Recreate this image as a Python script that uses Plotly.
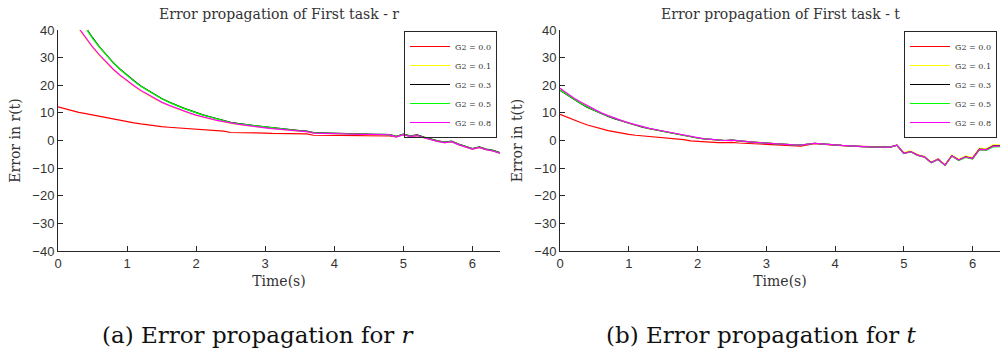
import numpy as np
import plotly.graph_objects as go

# ---------------- data ----------------
time_s = np.round(np.arange(0, 6.45, 0.1), 1)  # 0.0 .. 6.4 s

series_names = ["G2 = 0.0", "G2 = 0.1", "G2 = 0.3", "G2 = 0.5", "G2 = 0.8"]
series_colors = ["#FF0000", "#FFFF00", "#000000", "#00FF00", "#FF00FF"]

# Error in r(t)
r_g00 = [12.2, 11.5, 10.8, 10.2, 9.7, 9.2, 8.7, 8.2, 7.7, 7.2,
         6.8, 6.4, 6.0, 5.6, 5.3, 5.0, 4.8, 4.6, 4.4, 4.2,
         4.0, 3.9, 3.7, 3.6, 3.4, 2.9, 2.9, 2.8, 2.8, 2.7,
         2.7, 2.6, 2.6, 2.6, 2.5, 2.5, 2.4, 1.9, 1.9, 1.9,
         1.8, 1.8, 1.8, 1.8, 1.8, 1.8, 1.8, 1.7, 1.7, 1.3,
         2.1, 1.5, 1.8, 1.0, 0.3, -0.3, -0.8, -0.4, -1.5, -2.2,
         -3.1, -2.5, -3.3, -3.8, -4.6]
r_g01 = [53.5, 48.7, 44.4, 40.4, 36.9, 33.6, 30.7, 28.0, 25.6, 23.4,
         21.4, 19.6, 17.9, 16.4, 15.0, 13.8, 12.7, 11.7, 10.8, 9.9,
         9.1, 8.4, 7.8, 7.2, 6.7, 6.2, 5.8, 5.5, 5.1, 4.8,
         4.5, 4.3, 4.0, 3.8, 3.6, 3.4, 3.2, 2.7, 2.6, 2.5,
         2.4, 2.3, 2.3, 2.2, 2.2, 2.1, 2.1, 2.0, 2.0, 1.4,
         2.2, 1.6, 1.9, 1.1, 0.4, -0.2, -0.7, -0.3, -1.4, -2.1,
         -3.0, -2.4, -3.2, -3.7, -4.5]
r_g03 = [58.7, 53.7, 49.1, 44.8, 40.8, 37.2, 33.9, 30.9, 28.2, 25.8,
         23.6, 21.6, 19.7, 18.1, 16.6, 15.2, 14.0, 12.9, 11.9, 11.0,
         10.1, 9.3, 8.6, 7.9, 7.3, 6.6, 6.2, 5.8, 5.5, 5.2,
         4.9, 4.6, 4.3, 4.0, 3.8, 3.6, 3.4, 2.9, 2.8, 2.7,
         2.6, 2.5, 2.4, 2.4, 2.3, 2.3, 2.2, 2.2, 2.1, 1.5,
         2.3, 1.7, 2.0, 1.2, 0.5, -0.1, -0.6, -0.2, -1.3, -2.0,
         -2.9, -2.3, -3.1, -3.6, -4.4]
r_g05 = [58.5, 53.5, 48.9, 44.6, 40.6, 37.0, 33.8, 30.8, 28.1, 25.7,
         23.5, 21.5, 19.6, 18.0, 16.5, 15.1, 13.9, 12.8, 11.8, 10.9,
         10.0, 9.2, 8.5, 7.8, 7.2, 6.5, 6.1, 5.8, 5.4, 5.1,
         4.8, 4.5, 4.2, 4.0, 3.7, 3.5, 3.3, 2.8, 2.7, 2.6,
         2.5, 2.4, 2.4, 2.3, 2.3, 2.2, 2.2, 2.1, 2.0, 1.4,
         2.2, 1.6, 1.9, 1.1, 0.4, -0.2, -0.7, -0.3, -1.4, -2.1,
         -3.0, -2.4, -3.2, -3.7, -4.5]
r_g08 = [53.8, 49.0, 44.7, 40.7, 37.2, 33.9, 31.0, 28.3, 25.8, 23.6,
         21.6, 19.8, 18.1, 16.6, 15.2, 13.9, 12.8, 11.8, 10.9, 10.0,
         9.2, 8.5, 7.9, 7.3, 6.8, 6.3, 5.9, 5.6, 5.2, 4.9,
         4.6, 4.3, 4.1, 3.8, 3.6, 3.4, 3.2, 2.7, 2.6, 2.5,
         2.4, 2.4, 2.3, 2.3, 2.2, 2.2, 2.1, 2.1, 2.0, 1.3,
         2.1, 1.5, 1.8, 1.0, 0.3, -0.3, -0.8, -0.4, -1.5, -2.2,
         -3.1, -2.5, -3.3, -3.8, -4.6]

# Error in t(t)
t_g00 = [9.5, 8.4, 7.4, 6.5, 5.6, 4.9, 4.2, 3.6, 3.1, 2.6,
         2.2, 1.9, 1.7, 1.4, 1.2, 1.0, 0.8, 0.5, 0.3, -0.1,
         -0.3, -0.5, -0.7, -0.8, -0.8, -0.7, -0.9, -1.0, -1.1, -1.3,
         -1.4, -1.5, -1.7, -1.8, -1.9, -2.0, -1.6, -1.1, -1.3, -1.6,
         -1.7, -1.9, -2.0, -2.1, -2.2, -2.3, -2.4, -2.5, -2.4, -1.7,
         -4.6, -4.0, -5.3, -5.9, -8.0, -6.8, -8.9, -5.5, -7.1, -5.9,
         -6.5, -3.2, -3.4, -2.0, -2.0]
t_g01 = [18.7, 16.9, 15.2, 13.7, 12.3, 11.0, 9.9, 8.9, 7.9, 7.1,
         6.3, 5.6, 4.9, 4.3, 3.8, 3.3, 2.8, 2.3, 1.8, 1.3,
         0.9, 0.6, 0.3, 0.1, 0.0, 0.1, -0.2, -0.4, -0.6, -0.8,
         -1.0, -1.1, -1.3, -1.4, -1.6, -1.7, -1.4, -1.0, -1.2, -1.5,
         -1.6, -1.8, -2.0, -2.1, -2.2, -2.3, -2.4, -2.5, -2.4, -1.6,
         -4.4, -3.8, -5.1, -5.7, -7.8, -6.6, -8.7, -5.3, -6.8, -5.6,
         -6.1, -2.8, -3.0, -1.6, -1.6]
t_g03 = [18.2, 16.5, 14.9, 13.4, 12.0, 10.8, 9.7, 8.7, 7.8, 7.0,
         6.2, 5.5, 4.8, 4.3, 3.8, 3.3, 2.8, 2.3, 1.8, 1.3,
         0.9, 0.6, 0.4, 0.2, 0.0, 0.1, -0.2, -0.4, -0.6, -0.8,
         -1.0, -1.1, -1.3, -1.4, -1.6, -1.7, -1.4, -1.0, -1.2, -1.5,
         -1.6, -1.8, -2.0, -2.1, -2.2, -2.3, -2.4, -2.5, -2.4, -1.7,
         -4.6, -4.0, -5.3, -5.9, -8.0, -6.8, -8.9, -5.5, -7.1, -5.9,
         -6.5, -3.1, -3.3, -1.9, -1.9]
t_g05 = [18.3, 16.6, 15.0, 13.5, 12.1, 10.9, 9.8, 8.8, 7.9, 7.0,
         6.3, 5.6, 4.9, 4.3, 3.8, 3.3, 2.8, 2.3, 1.8, 1.3,
         0.9, 0.6, 0.4, 0.2, 0.0, 0.1, -0.2, -0.4, -0.6, -0.8,
         -1.0, -1.1, -1.3, -1.4, -1.6, -1.7, -1.4, -1.0, -1.2, -1.5,
         -1.6, -1.8, -2.0, -2.1, -2.2, -2.3, -2.4, -2.5, -2.4, -1.8,
         -4.7, -4.1, -5.4, -6.0, -8.1, -6.9, -9.0, -5.7, -7.3, -6.1,
         -6.7, -3.4, -3.6, -2.3, -2.2]
t_g08 = [18.9, 17.1, 15.4, 13.9, 12.5, 11.2, 10.0, 9.0, 8.0, 7.2,
         6.4, 5.7, 5.0, 4.4, 3.9, 3.4, 2.9, 2.4, 1.9, 1.4,
         0.9, 0.6, 0.4, 0.2, 0.0, 0.1, -0.2, -0.4, -0.6, -0.8,
         -1.0, -1.1, -1.3, -1.4, -1.6, -1.7, -1.4, -1.0, -1.2, -1.5,
         -1.6, -1.8, -2.0, -2.1, -2.2, -2.3, -2.4, -2.5, -2.4, -1.7,
         -4.6, -4.0, -5.3, -5.9, -8.0, -6.8, -8.9, -5.5, -7.1, -5.9,
         -6.5, -3.2, -3.4, -2.0, -2.0]

r_series = [r_g00, r_g01, r_g03, r_g05, r_g08]
t_series = [t_g00, t_g01, t_g03, t_g05, t_g08]

y_ticks = [-40, -30, -20, -10, 0, 10, 20, 30, 40]
x_ticks = [0, 1, 2, 3, 4, 5, 6]

# ---------------- figure ----------------
W, H = 1000, 351
SERIF = "DejaVu Serif"
SANS = "Liberation Sans"
AX = "#262626"

fig = go.Figure()
for name, color, ys in zip(series_names, series_colors, r_series):
    fig.add_trace(go.Scatter(x=time_s, y=ys, mode="lines", name=name,
                             line=dict(color=color, width=1.2),
                             xaxis="x", yaxis="y", legend="legend"))
for name, color, ys in zip(series_names, series_colors, t_series):
    fig.add_trace(go.Scatter(x=time_s, y=ys, mode="lines", name=name,
                             line=dict(color=color, width=1.2),
                             xaxis="x2", yaxis="y2", legend="legend2"))


def xaxis(domain, anchor):
    return dict(domain=domain, anchor=anchor, range=[0, 6.4], tickvals=x_ticks,
                showline=True, linecolor=AX, linewidth=1, mirror=False,
                ticks="inside", ticklen=5, tickcolor=AX, showgrid=False, zeroline=False,
                tickfont=dict(family=SANS, size=13, color="#333"),
                title=dict(text="Time(s)", font=dict(family=SERIF, size=14, color="#333"),
                           standoff=6))


def yaxis(domain, anchor, label):
    return dict(domain=domain, anchor=anchor, range=[-40, 40], tickvals=y_ticks,
                showline=True, linecolor=AX, linewidth=1, mirror=False,
                ticks="inside", ticklen=5, tickcolor=AX, showgrid=False, zeroline=False,
                tickfont=dict(family=SANS, size=13, color="#333"),
                title=dict(text=label, font=dict(family=SERIF, size=14, color="#333"),
                           standoff=8))


ydom = [100 / H, (H - 30) / H]
left_dom = [58 / W, 500 / W]
right_dom = [560 / W, 1.0]


def legend_box(xright):
    return dict(x=xright, xanchor="right", y=(H - 31) / H, yanchor="top",
                bgcolor="rgba(255,255,255,0)", bordercolor=AX, borderwidth=1,
                font=dict(family=SERIF, size=8, color="#333"),
                itemwidth=40, tracegroupgap=0)


fig.update_layout(
    width=W, height=H, margin=dict(l=0, r=0, t=0, b=0, autoexpand=False),
    paper_bgcolor="white", plot_bgcolor="white",
    xaxis=xaxis(left_dom, "y"), yaxis=yaxis(ydom, "x", "Error in r(t)"),
    xaxis2=xaxis(right_dom, "y2"), yaxis2=yaxis(ydom, "x2", "Error in t(t)"),
    legend=legend_box(0.497), legend2=legend_box(0.997),
    showlegend=True,
)

titles = [("Error propagation of First task - r", sum(left_dom) / 2),
          ("Error propagation of First task - t", sum(right_dom) / 2)]
for text, xc in titles:
    fig.add_annotation(text=text, x=xc, y=(H - 14) / H, xref="paper", yref="paper",
                       xanchor="center", yanchor="middle", showarrow=False,
                       font=dict(family=SERIF, size=14, color="#333"))

captions = [("(a) Error propagation for <i>r</i>", 258 / W),
            ("(b) Error propagation for <i>t</i>", 761 / W)]
for text, xc in captions:
    fig.add_annotation(text=text, x=xc, y=(H - 335) / H, xref="paper", yref="paper",
                       xanchor="center", yanchor="middle", showarrow=False,
                       font=dict(family=SERIF, size=23, color="#111"))

fig.write_html("out.html")
